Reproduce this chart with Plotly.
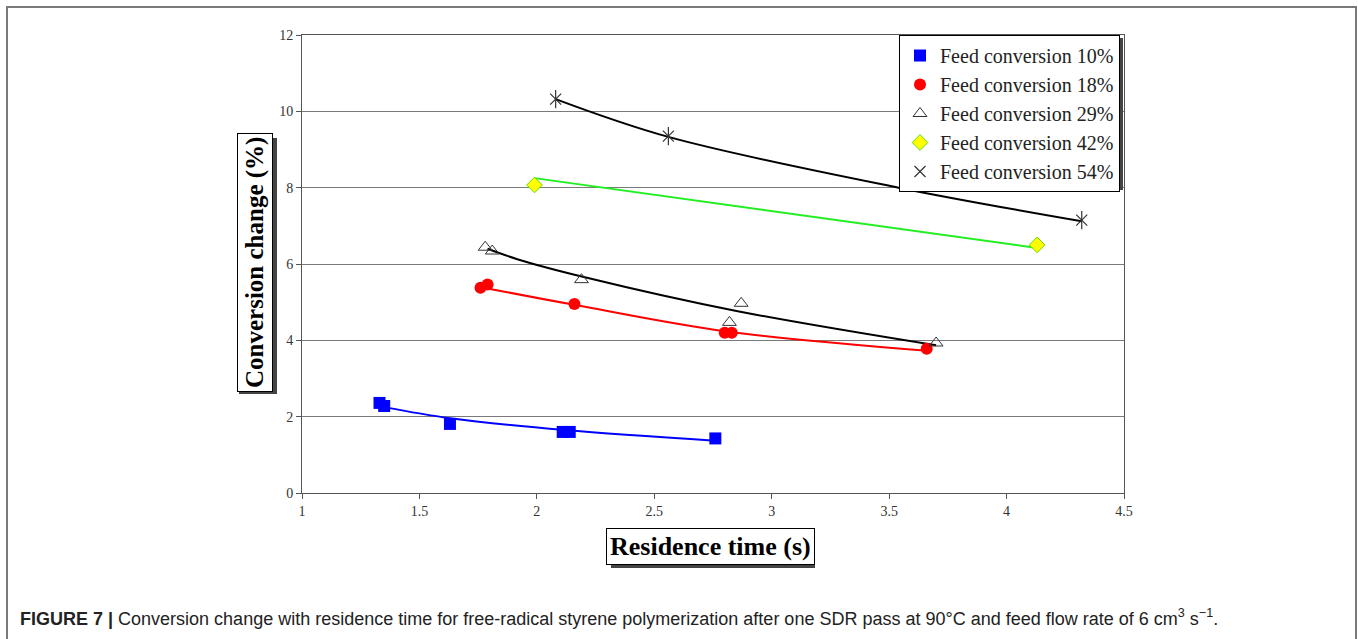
import plotly.graph_objects as go

# ---------------- data ----------------
series_names = ["Feed conversion 10%", "Feed conversion 18%", "Feed conversion 29%",
                "Feed conversion 42%", "Feed conversion 54%"]

x10 = [1.33, 1.35, 1.63, 2.11, 2.14, 2.76]
y10 = [2.36, 2.28, 1.81, 1.60, 1.60, 1.43]
x18 = [1.76, 1.79, 2.16, 2.80, 2.83, 3.66]
y18 = [5.38, 5.46, 4.95, 4.20, 4.20, 3.78]
x29 = [1.78, 1.81, 2.19, 2.82, 2.87, 3.70]
y29 = [6.44, 6.34, 5.59, 4.47, 4.97, 3.93]
x42 = [1.99, 4.13]
y42 = [8.07, 6.50]
x54 = [2.08, 2.56, 4.32]
y54 = [10.32, 9.35, 7.15]

# trend lines
tx10 = [1.35, 1.63, 2.12, 2.76]
ty10 = [2.25, 1.96, 1.65, 1.37]
tx18 = [1.79, 2.16, 2.80, 3.66]
ty18 = [5.36, 4.93, 4.24, 3.73]
tx29 = [1.79, 1.92, 2.20, 2.85, 3.70]
ty29 = [6.40, 6.12, 5.66, 4.77, 3.87]
tx42 = [1.99, 4.13]
ty42 = [8.25, 6.42]
tx54 = [2.08, 2.56, 3.54, 4.32]
ty54 = [10.32, 9.33, 8.00, 7.12]

x_ticks = [1, 1.5, 2, 2.5, 3, 3.5, 4, 4.5]
x_tick_labels = ["1", "1.5", "2", "2.5", "3", "3.5", "4", "4.5"]
y_ticks = [0, 2, 4, 6, 8, 10, 12]
y_tick_labels = ["0", "2", "4", "6", "8", "10", "12"]

# ---------------- figure ----------------
W, H = 1358, 639
L, R, T, B = 302, 234, 35, 146
PW, PH = W - L - R, H - T - B

def px(xp):
    return (xp - L) / PW

def py(yp):
    return (H - B - yp) / PH

SERIF = "Liberation Serif"
fig = go.Figure()

# trend lines
for tx, ty, col in [(tx10, ty10, "#0000ff"), (tx18, ty18, "#ff0000"), (tx29, ty29, "#000000"),
                    (tx42, ty42, "#22ee22"), (tx54, ty54, "#000000")]:
    fig.add_trace(go.Scatter(x=tx, y=ty, mode="lines", line=dict(color=col, width=2, shape="spline"),
                             showlegend=False, hoverinfo="skip"))

fig.add_trace(go.Scatter(x=x10, y=y10, mode="markers", name=series_names[0],
                         marker=dict(symbol="square", size=12, color="#0000ff")))
fig.add_trace(go.Scatter(x=x18, y=y18, mode="markers", name=series_names[1],
                         marker=dict(symbol="circle", size=12, color="#ff0000")))
fig.add_trace(go.Scatter(x=x29, y=y29, mode="markers", name=series_names[2],
                         marker=dict(symbol="triangle-up-open", size=12, color="#333333",
                                     line=dict(width=1))))
fig.add_trace(go.Scatter(x=x42, y=y42, mode="markers", name=series_names[3],
                         marker=dict(symbol="diamond", size=12, color="#ffff00",
                                     line=dict(color="#66dd00", width=1))))
fig.add_trace(go.Scatter(x=x54, y=y54, mode="markers", name=series_names[4],
                         marker=dict(symbol="x-thin-open", size=11, color="#333333",
                                     line=dict(width=1.2, color="#333333"))))
fig.add_trace(go.Scatter(x=x54, y=y54, mode="markers", showlegend=False,
                         marker=dict(symbol="line-ns-open", size=13, color="#333333",
                                     line=dict(width=1.2, color="#333333"))))

shapes = []
# outer frame
shapes.append(dict(type="rect", xref="paper", yref="paper",
                   x0=px(7), x1=px(1356), y0=py(700), y1=py(7),
                   line=dict(color="#7a7a7a", width=2), fillcolor="rgba(0,0,0,0)", layer="below"))
# legend shadow
shapes.append(dict(type="rect", xref="paper", yref="paper",
                   x0=px(903), x1=px(1123), y0=py(190), y1=py(38),
                   line=dict(width=0), fillcolor="#444444", layer="above"))
# y title shadow
shapes.append(dict(type="rect", xref="paper", yref="paper",
                   x0=px(239), x1=px(277), y0=py(394), y1=py(138),
                   line=dict(width=0), fillcolor="#444444", layer="above"))
# x title shadow
shapes.append(dict(type="rect", xref="paper", yref="paper",
                   x0=px(611), x1=px(815), y0=py(568), y1=py(533),
                   line=dict(width=0), fillcolor="#444444", layer="above"))

annotations = [
    dict(text="<b>Conversion change (%)</b>", textangle=-90, xref="paper", yref="paper",
         x=px(255), y=py(263), xanchor="center", yanchor="middle", showarrow=False,
         font=dict(family=SERIF, size=25, color="#000000"), bgcolor="#ffffff",
         bordercolor="#000000", borderwidth=1, borderpad=3),
    dict(text="<b>Residence time (s)</b>", xref="paper", yref="paper",
         x=px(710), y=py(546), xanchor="center", yanchor="middle", showarrow=False,
         font=dict(family=SERIF, size=26, color="#000000"), bgcolor="#ffffff",
         bordercolor="#000000", borderwidth=1, borderpad=3),
    dict(text="<b>FIGURE 7 |</b> Conversion change with residence time for free-radical styrene "
              "polymerization after one SDR pass at 90°C and feed flow rate of 6 cm<sup>3</sup> s<sup>−1</sup>.",
         xref="paper", yref="paper", x=px(18), y=py(617), xanchor="left", yanchor="middle",
         showarrow=False, font=dict(family="Liberation Sans", size=18, color="#222222")),
]

fig.update_layout(
    width=W, height=H,
    margin=dict(l=L, r=R, t=T, b=B, pad=0),
    paper_bgcolor="#ffffff", plot_bgcolor="#ffffff",
    showlegend=True,
    legend=dict(x=px(1120), y=1, xanchor="right", yanchor="top",
                bgcolor="#ffffff", bordercolor="#000000", borderwidth=1,
                font=dict(family=SERIF, size=20, color="#222222"),
                tracegroupgap=0, itemsizing="trace"),
    xaxis=dict(range=[1, 4.5], tickvals=x_ticks, ticktext=x_tick_labels,
               showgrid=False, zeroline=False, showline=True, mirror=True,
               linecolor="#555555", linewidth=1, ticks="outside", ticklen=5,
               tickcolor="#555555", tickfont=dict(family=SERIF, size=14, color="#333333")),
    yaxis=dict(range=[0, 12], tickvals=y_ticks, ticktext=y_tick_labels,
               showgrid=True, gridcolor="#7a7a7a", gridwidth=1, zeroline=False,
               showline=True, mirror=True, linecolor="#555555", linewidth=1,
               ticks="outside", ticklen=5, tickcolor="#555555",
               tickfont=dict(family=SERIF, size=14, color="#333333")),
    shapes=shapes, annotations=annotations,
)

fig.write_html("out.html")
